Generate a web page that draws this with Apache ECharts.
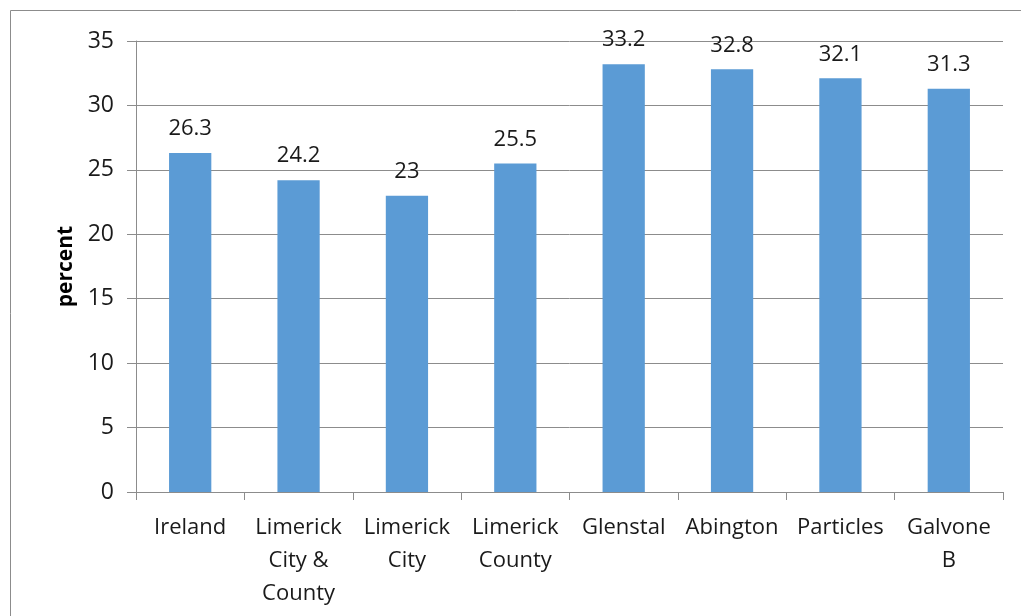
<!DOCTYPE html>
<html>
<head>
<meta charset="utf-8">
<script src="https://cdn.jsdelivr.net/npm/echarts@6/dist/echarts.min.js"></script>
<style>
  html, body { margin: 0; padding: 0; background: #fff; }
  #main { width: 1021px; height: 616px; }
</style>
</head>
<body>
<div id="main"></div>
<script>
var categories = ['Ireland', 'Limerick\nCity &\nCounty', 'Limerick\nCity', 'Limerick\nCounty', 'Glenstal', 'Abington', 'Particles', 'Galvone\nB'];
var values = [26.3, 24.2, 23, 25.5, 33.2, 32.8, 32.1, 31.3];
var yTicks = { min: 0, max: 35, interval: 5 };

var chart = echarts.init(document.getElementById('main'));

var font = '"Open Sans", "DejaVu Sans", sans-serif';

var option = {
  animation: false,
  textStyle: { fontFamily: font },
  graphic: [
    {
      type: 'rect',
      shape: { x: 10.5, y: 10.5, width: 1030, height: 630 },
      style: { fill: 'none', stroke: '#8c8c8c', lineWidth: 1 },
      silent: true
    }
  ],
  grid: { left: 136, right: 18, top: 41, bottom: 124 },
  xAxis: {
    type: 'category',
    data: categories,
    axisLine: { lineStyle: { color: '#8c8c8c', width: 1 } },
    axisTick: { show: true, length: 8, alignWithLabel: false, lineStyle: { color: '#8c8c8c' } },
    axisLabel: {
      color: '#1a1a1a',
      fontSize: 22,
      lineHeight: 33,
      margin: 19,
      interval: 0
    }
  },
  yAxis: {
    type: 'value',
    min: yTicks.min,
    max: yTicks.max,
    interval: yTicks.interval,
    name: 'percent',
    nameLocation: 'middle',
    nameGap: 58,
    nameRotate: 90,
    nameTextStyle: { color: '#000', fontSize: 21, fontWeight: 'bold' },
    axisLine: { show: true, lineStyle: { color: '#8c8c8c', width: 1 } },
    axisTick: { show: true, length: 9, lineStyle: { color: '#8c8c8c' } },
    splitLine: { show: true, lineStyle: { color: '#8c8c8c', width: 1 } },
    axisLabel: { color: '#1a1a1a', fontSize: 23, margin: 22 }
  },
  series: [
    {
      type: 'bar',
      data: values,
      barWidth: '39%',
      itemStyle: { color: '#5b9bd5' },
      label: {
        show: true,
        position: 'top',
        distance: 13,
        color: '#1a1a1a',
        fontSize: 22
      }
    }
  ]
};

chart.setOption(option);
</script>
</body>
</html>
